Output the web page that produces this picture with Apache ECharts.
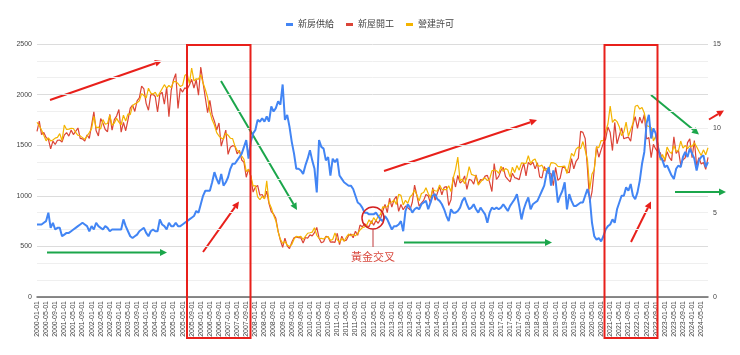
<!DOCTYPE html>
<html lang="zh-Hant">
<head>
<meta charset="utf-8" />
<title>新房供給 / 新屋開工 / 營建許可</title>
<script src="https://cdn.jsdelivr.net/npm/echarts/dist/echarts.min.js"></script>
<style>
  html, body { margin: 0; padding: 0; background: #fff; }
  #main { width: 740px; height: 355px; }
</style>
</head>
<body>
<div id="main"></div>
<script>
// monthly, 2000-01 .. 2024-08
const dates = [];
for (let y = 2000; y <= 2024; y++) {
  for (let m = 1; m <= 12; m++) {
    if (y === 2024 && m > 8) break;
    dates.push(y + '-' + (m < 10 ? '0' + m : m) + '-01');
  }
}

// 新房供給 (months, right axis)
const supply = [
  4.3,4.3,4.3,4.4,4.5,5.0,4.1,4.4,4.0,4.1,4.1,3.6,
  3.7,3.8,3.8,3.9,4.0,4.1,4.2,4.3,4.4,4.3,4.2,3.9,
  4.2,4.0,4.4,4.2,4.1,4.0,4.2,4.1,3.9,4.0,4.0,4.0,
  4.0,4.0,4.6,4.2,3.9,3.6,3.5,3.6,3.7,3.9,4.0,4.1,
  3.8,3.6,3.9,4.0,3.9,3.9,4.6,4.3,4.2,4.0,4.4,4.2,
  4.2,4.4,4.2,4.2,4.3,4.4,4.5,4.6,4.7,4.8,5.1,5.0,
  5.5,6.0,6.3,6.3,6.3,6.8,7.4,7.0,6.7,7.3,6.6,6.8,
  7.1,7.6,7.9,7.9,8.1,8.3,8.5,8.9,9.3,8.2,9.2,9.7,
  9.9,10.5,10.4,10.6,10.4,10.7,10.4,11.3,11.0,11.2,11.6,11.4,
  12.6,10.5,10.8,10.1,9.2,8.5,7.6,7.6,7.5,7.3,7.8,8.2,
  8.7,8.1,7.6,6.2,9.3,8.9,8.8,8.1,8.3,7.2,8.2,8.0,
  8.2,7.2,7.0,6.8,6.7,6.6,6.6,6.4,6.0,5.6,5.5,5.3,
  5.0,5.0,4.9,4.9,4.9,5.0,4.8,4.6,4.5,4.8,4.6,4.3,
  4.0,4.2,4.2,4.3,4.5,3.9,5.1,5.5,5.3,5.0,5.2,5.3,
  5.2,5.5,5.6,5.7,5.2,5.6,6.0,6.1,5.8,5.7,5.5,5.2,
  4.8,4.5,5.2,5.0,5.0,5.1,5.3,5.7,5.9,5.5,5.2,5.3,
  5.5,5.2,5.0,5.3,5.1,4.9,4.4,5.0,5.3,5.2,5.3,5.2,
  5.3,5.5,5.3,5.1,5.4,5.6,5.8,6.1,5.4,4.6,5.2,5.6,
  5.9,5.2,5.5,5.6,5.7,6.0,6.3,6.6,7.3,7.7,6.6,7.5,
  6.9,5.6,6.0,6.3,6.8,5.2,6.1,5.7,5.4,5.4,5.5,5.6,
  5.6,6.0,6.4,5.9,4.4,3.6,3.4,3.5,3.3,3.6,4.0,4.2,
  4.3,4.6,4.4,5.2,5.6,6.0,6.0,6.5,6.3,6.7,6.0,5.8,
  6.2,6.9,7.9,8.6,10.3,10.8,9.4,10.0,9.7,8.9,8.3,8.1,
  7.7,7.8,7.5,7.2,7.0,7.6,7.8,7.7,8.3,8.6,8.3,8.8,
  8.5,8.2,7.5,8.1,8.3,8.4,7.7,8.0
];

// 新屋開工 (thousands, left axis)
const starts = [
  1636,1737,1604,1626,1575,1559,1463,1541,1507,1549,1551,1532,
  1600,1625,1590,1649,1605,1636,1670,1567,1562,1540,1602,1568,
  1698,1829,1642,1592,1764,1717,1655,1633,1804,1648,1753,1788,
  1853,1629,1726,1643,1751,1867,1897,1833,1939,1967,2083,2057,
  1911,1846,1998,2003,1981,1828,2002,2024,1905,2072,1782,2042,
  2144,2207,1864,2061,2025,2068,2054,2095,2151,2065,2147,1994,
  2273,2119,1969,1821,1942,1802,1737,1650,1720,1491,1570,1649,
  1409,1480,1495,1490,1415,1448,1354,1330,1183,1264,1197,1037,
  1084,1103,1005,1013,973,1046,923,844,820,777,652,560,
  490,582,505,478,540,585,594,586,585,534,588,581,
  614,604,636,687,583,536,546,599,594,543,545,539,
  630,517,600,554,561,608,623,585,650,610,711,694,
  723,704,695,753,708,757,728,771,847,915,833,976,
  888,962,994,846,914,862,898,883,862,936,1105,1003,
  897,928,955,1013,1000,925,1082,956,1026,1088,1010,1083,
  1091,904,960,1188,1087,1201,1127,1145,1197,1064,1162,1154,
  1115,1206,1117,1160,1155,1194,1202,1133,1042,1319,1161,1192,
  1251,1281,1190,1162,1138,1223,1180,1172,1159,1254,1322,1197,
  1331,1305,1333,1266,1326,1186,1177,1289,1240,1222,1219,1101,
  1282,1153,1174,1282,1279,1239,1228,1368,1267,1341,1373,1637,
  1627,1567,1269,934,1038,1265,1486,1381,1454,1521,1560,1680,
  1625,1447,1725,1514,1594,1670,1563,1573,1580,1539,1706,1783,
  1666,1777,1716,1805,1562,1575,1377,1508,1463,1432,1427,1357,
  1340,1436,1380,1348,1583,1418,1451,1305,1356,1376,1525,1562,
  1376,1546,1299,1377,1315,1329,1262,1379
];

// 營建許可 (thousands, left axis)
const permits = [
  1727,1692,1651,1597,1543,1572,1542,1552,1570,1577,1614,1545,
  1699,1656,1659,1666,1665,1626,1598,1592,1575,1558,1591,1625,
  1664,1786,1671,1679,1661,1753,1708,1714,1796,1697,1719,1765,
  1728,1702,1796,1739,1809,1802,1892,1908,1919,1938,2010,1991,
  1966,2063,2015,2005,2023,1979,2019,2058,2098,2063,2090,2069,
  2131,2128,2109,2080,2092,2188,2206,2109,2263,2135,2156,2153,
  2197,2114,2050,1974,1831,1751,1700,1624,1591,1570,1561,1619,
  1599,1569,1565,1493,1448,1432,1393,1360,1239,1263,1196,1097,
  1100,989,961,994,969,1149,933,882,809,754,645,570,
  530,550,513,498,519,571,600,594,599,568,600,630,
  635,641,685,610,578,580,573,590,597,559,568,634,
  567,542,580,551,591,622,604,619,604,628,662,684,
  692,714,764,724,784,753,799,815,890,889,892,934,
  939,957,915,1014,1004,910,955,926,988,1012,1057,1007,
  950,1023,1033,1079,1023,982,1063,1050,1046,1107,1064,1061,
  1062,1099,1042,1178,1259,1382,1148,1165,1120,1181,1289,1212,
  1203,1193,1105,1136,1164,1178,1150,1167,1246,1255,1248,1222,
  1293,1241,1269,1255,1185,1283,1230,1300,1253,1326,1323,1321,
  1396,1321,1350,1364,1301,1292,1303,1249,1270,1263,1328,1326,
  1317,1291,1288,1290,1294,1220,1317,1419,1391,1461,1482,1466,
  1536,1452,1356,1066,1216,1258,1483,1476,1545,1544,1639,1709,
  1886,1726,1755,1733,1683,1594,1630,1728,1589,1653,1717,1885,
  1895,1857,1873,1819,1695,1685,1674,1542,1588,1512,1351,1409,
  1354,1482,1437,1417,1496,1441,1443,1541,1471,1498,1467,1493,
  1489,1523,1485,1440,1399,1454,1406,1475
];

const RED = '#e8201b', GREEN = '#1ba64b';

// hand-drawn annotations (pixel positions)
function arrow(x1, y1, x2, y2, color) {
  const a = Math.atan2(y2 - y1, x2 - x1);
  const len = 7, w = 3.5;
  const bx = x2 - len * Math.cos(a), by = y2 - len * Math.sin(a);
  return {
    type: 'group', z: 100,
    children: [
      { type: 'line', shape: { x1: x1, y1: y1, x2: bx, y2: by },
        style: { stroke: color, lineWidth: 2 } },
      { type: 'polygon',
        shape: { points: [[x2, y2],
          [bx + w * Math.sin(a), by - w * Math.cos(a)],
          [bx - w * Math.sin(a), by + w * Math.cos(a)]] },
        style: { fill: color } }
    ]
  };
}

const graphics = [
  { type: 'rect', z: 100, shape: { x: 187, y: 45, width: 63.5, height: 293 },
    style: { fill: 'none', stroke: RED, lineWidth: 2 } },
  { type: 'rect', z: 100, shape: { x: 604.5, y: 45, width: 53, height: 293 },
    style: { fill: 'none', stroke: RED, lineWidth: 2 } },
  arrow(50, 100, 162, 61, RED),
  arrow(47, 252.5, 167, 252.5, GREEN),
  arrow(203, 252, 239, 201.5, RED),
  arrow(221, 81, 297, 210, GREEN),
  arrow(384, 171, 537, 120, RED),
  arrow(404, 242.5, 552, 242.5, GREEN),
  arrow(631, 242, 651, 201.5, RED),
  arrow(651, 95, 699, 134.5, GREEN),
  arrow(675, 192, 726, 192, GREEN),
  arrow(709, 119.5, 724, 110.5, RED),
  { type: 'circle', z: 100, shape: { cx: 373, cy: 218, r: 11 },
    style: { fill: 'none', stroke: '#d42020', lineWidth: 1.5 } },
  { type: 'line', z: 100, shape: { x1: 373, y1: 229, x2: 373, y2: 247 },
    style: { stroke: '#c0393a', lineWidth: 1 } },
  { type: 'text', z: 100, x: 373, y: 257,
    style: { text: '黃金交叉', fill: '#d94a3f', font: '11px "Noto Sans CJK TC"',
      textAlign: 'center', textVerticalAlign: 'middle' } }
];

const chart = echarts.init(document.getElementById('main'));
chart.setOption({
  animation: false,
  textStyle: { fontFamily: 'Arial, "Liberation Sans", "Noto Sans CJK TC", sans-serif' },
  legend: {
    top: 15, left: 'center',
    icon: 'rect', itemWidth: 7, itemHeight: 3, itemGap: 12,
    textStyle: { fontSize: 9, color: '#444' },
    data: ['新房供給', '新屋開工', '營建許可']
  },
  grid: { left: 37, right: 32, top: 44, bottom: 58 },
  xAxis: {
    type: 'category', data: dates, boundaryGap: false,
    axisLine: { lineStyle: { color: '#666', width: 1.5 } },
    axisTick: { show: false },
    axisLabel: { rotate: 90, interval: 3, fontSize: 7, color: '#444', margin: 4 }
  },
  yAxis: [
    {
      type: 'value', min: 0, max: 2500, interval: 500,
      axisLine: { show: false }, axisTick: { show: false },
      axisLabel: { fontSize: 7, color: '#444', margin: 5, formatter: v => String(v) },
      splitLine: { lineStyle: { color: '#dcdcdc' } },
      minorTick: { show: false, splitNumber: 3 },
      minorSplitLine: { show: true, lineStyle: { color: '#efefef' } }
    },
    {
      type: 'value', min: 0, max: 15, interval: 5,
      axisLine: { show: false }, axisTick: { show: false },
      axisLabel: { fontSize: 7, color: '#444', margin: 5 },
      splitLine: { show: false }
    }
  ],
  series: [
    { name: '新房供給', type: 'line', yAxisIndex: 1, data: supply, z: 4,
      showSymbol: false, color: '#4285F4', lineStyle: { width: 2 } },
    { name: '新屋開工', type: 'line', yAxisIndex: 0, data: starts, z: 2,
      showSymbol: false, color: '#DB4437', lineStyle: { width: 1.2 } },
    { name: '營建許可', type: 'line', yAxisIndex: 0, data: permits, z: 3,
      showSymbol: false, color: '#F4B400', lineStyle: { width: 1.2 } }
  ],
  graphic: graphics
});
</script>
</body>
</html>
